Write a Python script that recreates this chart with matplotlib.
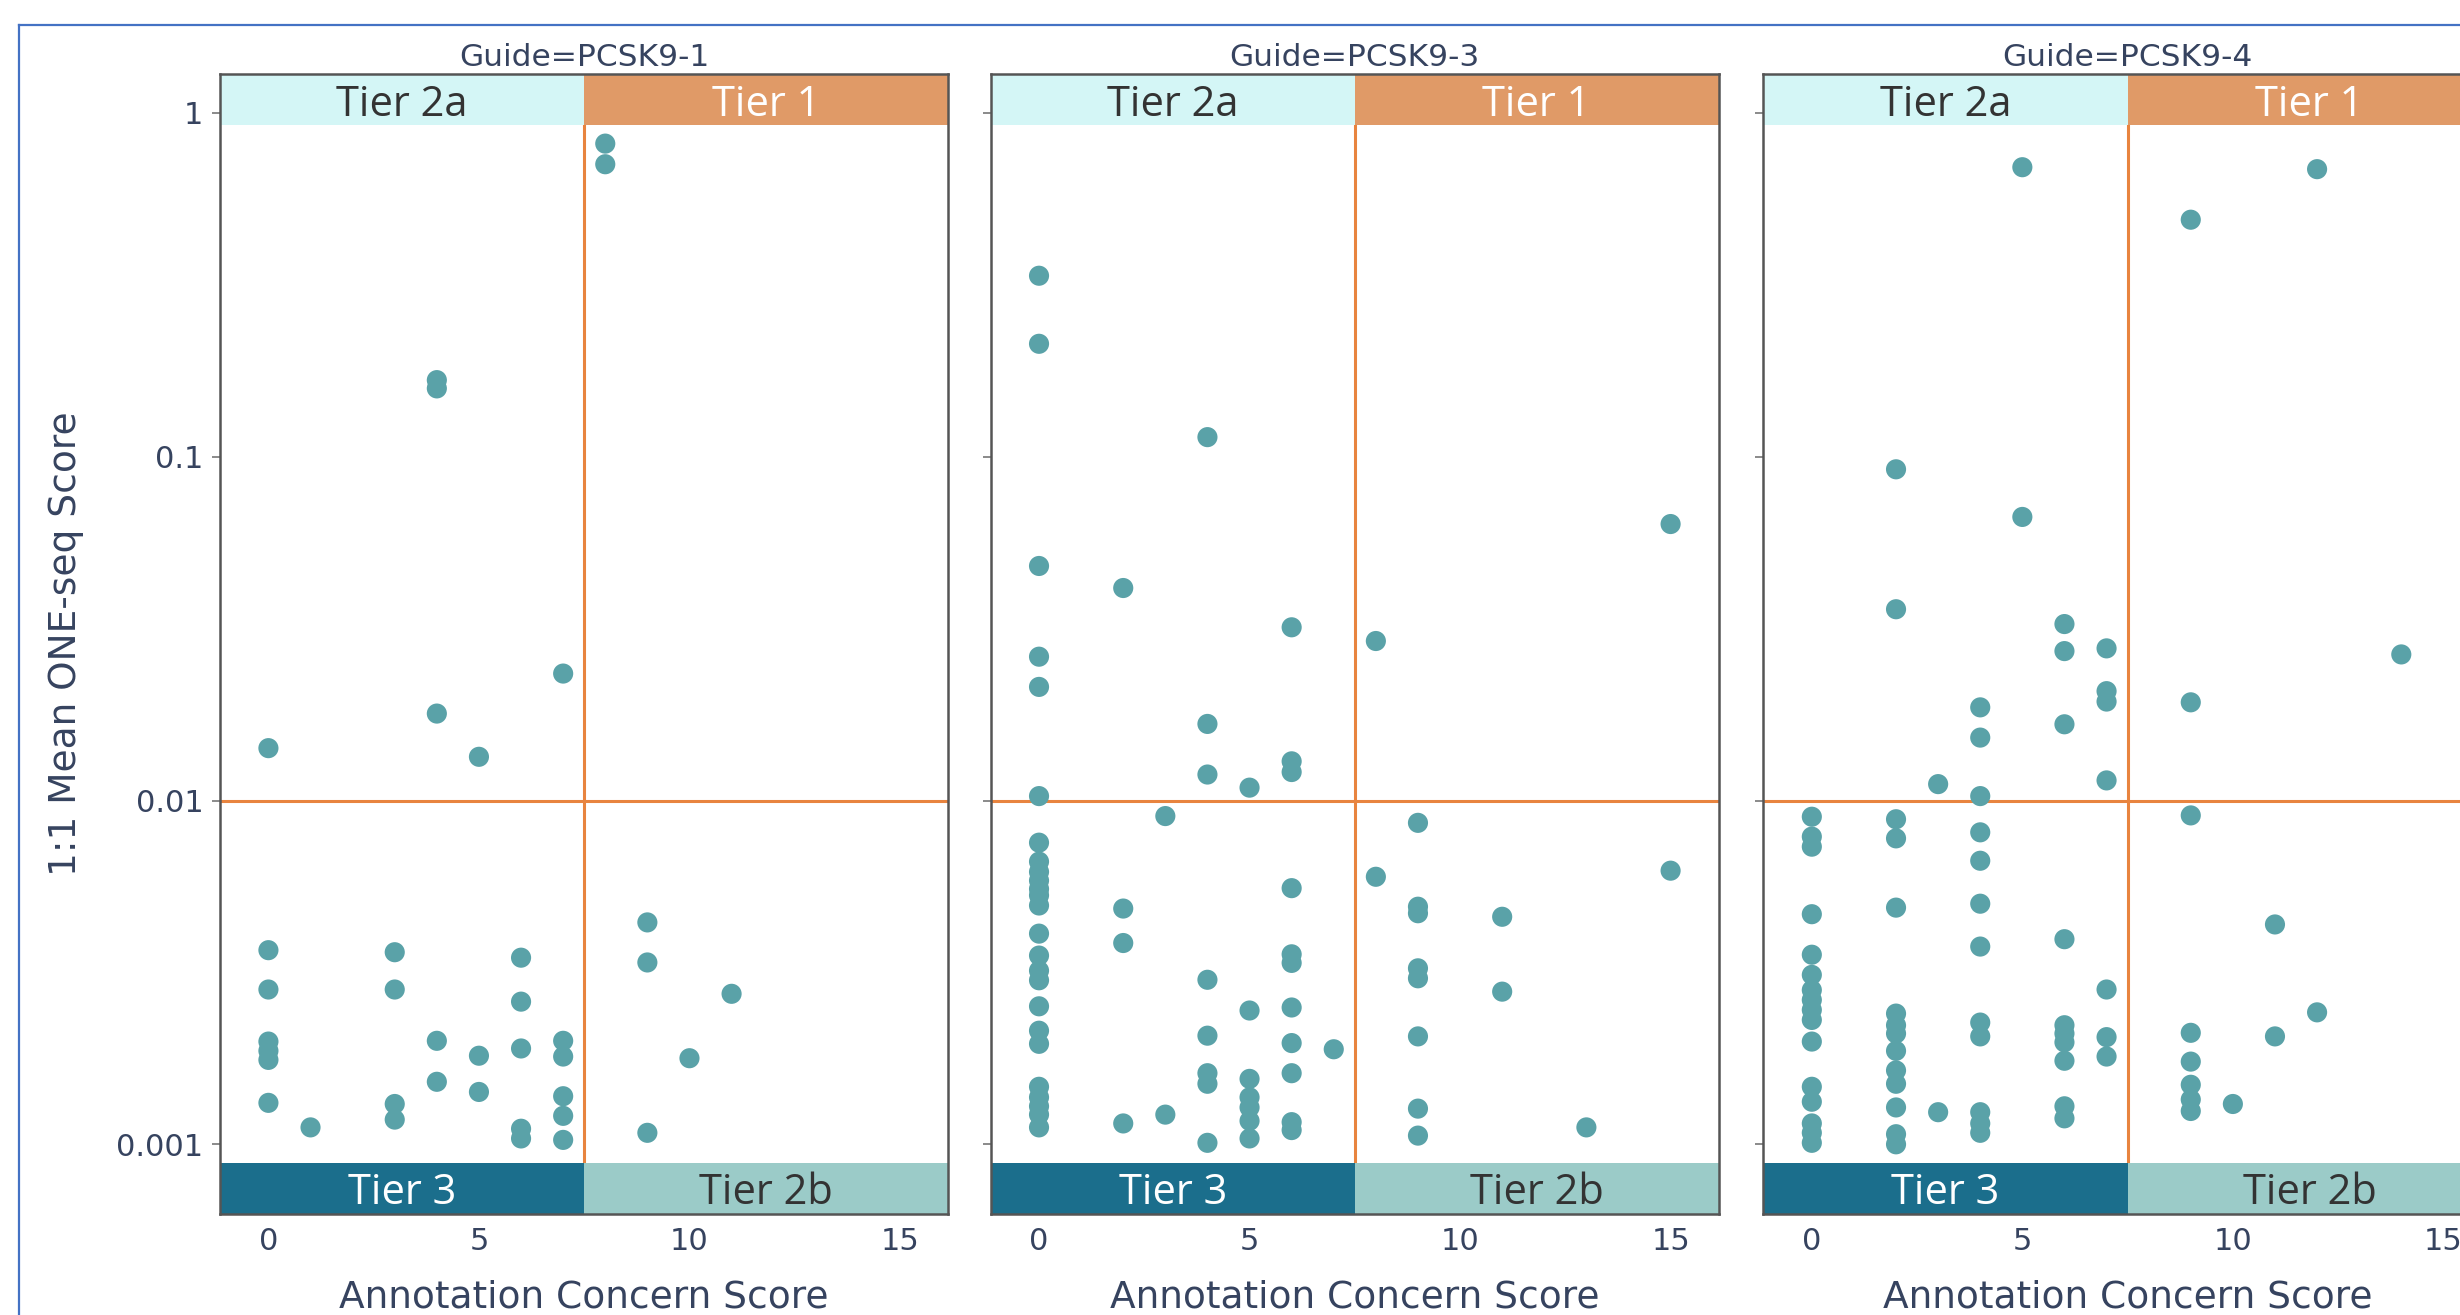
import matplotlib
matplotlib.use("Agg")
import matplotlib.pyplot as plt
import matplotlib.transforms as mtrans
from matplotlib.patches import Rectangle
from matplotlib.lines import Line2D
from matplotlib.ticker import NullLocator

# ---------------- data ----------------
guides = ["PCSK9-1", "PCSK9-3", "PCSK9-4"]

pcsk9_1_score = [0, 0, 0, 0, 0, 0, 0,
                 1,
                 3, 3, 3, 3,
                 4, 4, 4, 4, 4,
                 5, 5, 5,
                 6, 6, 6, 6, 6,
                 7, 7, 7, 7, 7, 7,
                 8, 8,
                 9, 9, 9,
                 10,
                 11]
pcsk9_1_oneseq = [0.0142, 0.00367, 0.00282, 0.00199, 0.00187, 0.00176, 0.00132,
                  0.00112,
                  0.00362, 0.00282, 0.00131, 0.00118,
                  0.167, 0.158, 0.0179, 0.00200, 0.00152,
                  0.0134, 0.00181, 0.00142,
                  0.00349, 0.00260, 0.00190, 0.00111, 0.00104,
                  0.0234, 0.00200, 0.00180, 0.00138, 0.00121, 0.00103,
                  0.814, 0.709,
                  0.00442, 0.00338, 0.00108,
                  0.00178,
                  0.00274]

pcsk9_3_score = [0] * 25 + [2] * 4 + [3] * 2 + [4] * 8 + [5] * 7 + [6] * 11 + \
                [7] * 1 + [8] * 2 + [9] * 8 + [11] * 2 + [13] * 1 + [15] * 2
pcsk9_3_oneseq = [0.336, 0.213, 0.0481, 0.0262, 0.0214, 0.0103, 0.00754, 0.00664,
                  0.00620, 0.00585, 0.00553, 0.00530, 0.00495, 0.00410, 0.00354,
                  0.00320, 0.00300, 0.00252, 0.00214, 0.00196, 0.00147, 0.00137,
                  0.00129, 0.00122, 0.00112,
                  0.0415, 0.00485, 0.00385, 0.00115,
                  0.00901, 0.00122,
                  0.114, 0.0167, 0.0119, 0.00301, 0.00207, 0.00161, 0.00150, 0.00101,
                  0.0109, 0.00245, 0.00155, 0.00137, 0.00128, 0.00117, 0.00104,
                  0.0319, 0.0130, 0.0121, 0.00556, 0.00357, 0.00337, 0.00250,
                  0.00197, 0.00161, 0.00116, 0.00110,
                  0.00189,
                  0.0291, 0.0060,
                  0.00861, 0.00491, 0.00470, 0.00325, 0.00304, 0.00206, 0.00127, 0.00106,
                  0.00459, 0.00278,
                  0.00112,
                  0.0637, 0.00625]

pcsk9_4_score = [0] * 16 + [2] * 14 + [3] * 2 + [4] * 12 + [5] * 2 + [6] * 10 + \
                [7] * 7 + [9] * 8 + [10] * 1 + [11] * 2 + [12] * 2 + [14] * 1
pcsk9_4_oneseq = [0.00897, 0.00785, 0.00734, 0.00467, 0.00356, 0.00311, 0.00281,
                  0.00263, 0.00246, 0.00230, 0.00199, 0.00147, 0.00133, 0.00115,
                  0.00108, 0.00101,
                  0.0919, 0.0360, 0.00882, 0.00776, 0.00488, 0.00240, 0.00222,
                  0.00210, 0.00187, 0.00164, 0.00150, 0.00128, 0.00107, 0.00100,
                  0.01116, 0.00124,
                  0.01866, 0.01524, 0.0103, 0.00808, 0.00668, 0.00501, 0.00376,
                  0.00226, 0.00206, 0.00124, 0.00115, 0.00108,
                  0.695, 0.0668,
                  0.0326, 0.0272, 0.01666, 0.00395, 0.00222, 0.00210, 0.00198,
                  0.00175, 0.00129, 0.00119,
                  0.0277, 0.0208, 0.0194, 0.01144, 0.00282, 0.00205, 0.00180,
                  0.489, 0.0193, 0.00905, 0.00211, 0.00174, 0.00149, 0.00135, 0.00125,
                  0.00131,
                  0.00436, 0.00206,
                  0.686, 0.00242,
                  0.0266]

series_x = [pcsk9_1_score, pcsk9_3_score, pcsk9_4_score]
series_y = [pcsk9_1_oneseq, pcsk9_3_oneseq, pcsk9_4_oneseq]

x_ticks = [0, 5, 10, 15]
y_ticks = [0.001, 0.01, 0.1, 1]
y_tick_labels = ["0.001", "0.01", "0.1", "1"]
score_threshold = 7.5
oneseq_threshold = 0.01
tier_top = ["Tier 2a", "Tier 1"]
tier_bottom = ["Tier 3", "Tier 2b"]

# ---------------- style ----------------
W, H = 2460, 1315
DPI = 100
TXT = "#36435f"
POINT = "#5aa2a8"
ORANGE = "#e8843f"
C_T2A = "#d4f6f6"
C_T1 = "#e09a67"
C_T3 = "#1b6e8c"
C_T2B = "#9bcbc8"

fig = plt.figure(figsize=(W / DPI, H / DPI), dpi=DPI)
fig.patch.set_facecolor("white")

panel_left_px = [220, 990.6, 1763.4]
panel_w_px = 728
top_px, bot_px = 74, 1214
xlim = (-1.15, 16.14)
ylim = (10 ** -3.2027, 10 ** 0.1131)
band_h = 51 / (bot_px - top_px)
text_shift = 5 / (bot_px - top_px)

for i, (g, xs, ys) in enumerate(zip(guides, series_x, series_y)):
    ax = fig.add_axes([panel_left_px[i] / W, (H - bot_px) / H,
                       panel_w_px / W, (bot_px - top_px) / H])
    ax.set_facecolor("white")
    ax.set_yscale("log")
    ax.set_xlim(*xlim)
    ax.set_ylim(*ylim)

    ax.axvline(score_threshold, color=ORANGE, lw=2.2, zorder=1.5)
    ax.axhline(oneseq_threshold, color=ORANGE, lw=2.2, zorder=1.5)

    ax.scatter(xs, ys, s=210, color=POINT, edgecolors="none", zorder=3)

    trans = mtrans.blended_transform_factory(ax.transData, ax.transAxes)
    bands = [(xlim[0], score_threshold, 1 - band_h, C_T2A, tier_top[0], "#333333"),
             (score_threshold, xlim[1], 1 - band_h, C_T1, tier_top[1], "white"),
             (xlim[0], score_threshold, 0, C_T3, tier_bottom[0], "white"),
             (score_threshold, xlim[1], 0, C_T2B, tier_bottom[1], "#333333")]
    for x0, x1, yb, col, lab, tcol in bands:
        ax.add_patch(Rectangle((x0, yb), x1 - x0, band_h, transform=trans,
                               facecolor=col, edgecolor="none", zorder=2,
                               clip_on=False))
        ax.text((x0 + x1) / 2, yb + band_h / 2 - text_shift, lab, transform=trans,
                ha="center", va="center", fontsize=30, color=tcol,
                family="Open Sans", zorder=4)

    for sp in ax.spines.values():
        sp.set_color("#555555")
        sp.set_linewidth(1.8)

    ax.set_xticks(x_ticks)
    ax.set_xticklabels([str(t) for t in x_ticks])
    ax.tick_params(axis="x", length=0, pad=9, labelsize=22, labelcolor=TXT)
    ax.set_yticks(y_ticks)
    ax.yaxis.set_minor_locator(NullLocator())
    ax.tick_params(axis="y", length=6, width=1.2, color="#777777", pad=6,
                   labelsize=22, labelcolor=TXT)
    if i == 0:
        ax.set_yticklabels(y_tick_labels)
    else:
        ax.set_yticklabels([])

    ax.text(0.5, 1 + 17 / 1140, "Guide=" + g, transform=ax.transAxes,
            ha="center", va="center", fontsize=22.5, color=TXT)
    ax.text(0.5, -(1298 - bot_px) / 1140, "Annotation Concern Score",
            transform=ax.transAxes, ha="center", va="center",
            fontsize=27, color=TXT)

fig.text(66 / W, 1 - 644 / H, "1:1 Mean ONE-seq Score", rotation=90,
         ha="center", va="center", fontsize=27, color=TXT)

# frame border (cut off on the right/bottom like the reference)
border = "#4472c4"
fig.add_artist(Line2D([19 / W, 19 / W], [0, 1 - 25 / H], color=border, lw=1.6))
fig.add_artist(Line2D([19 / W, 1], [1 - 25 / H, 1 - 25 / H], color=border, lw=1.6))

fig.savefig("out.png", dpi=DPI, facecolor="white")
